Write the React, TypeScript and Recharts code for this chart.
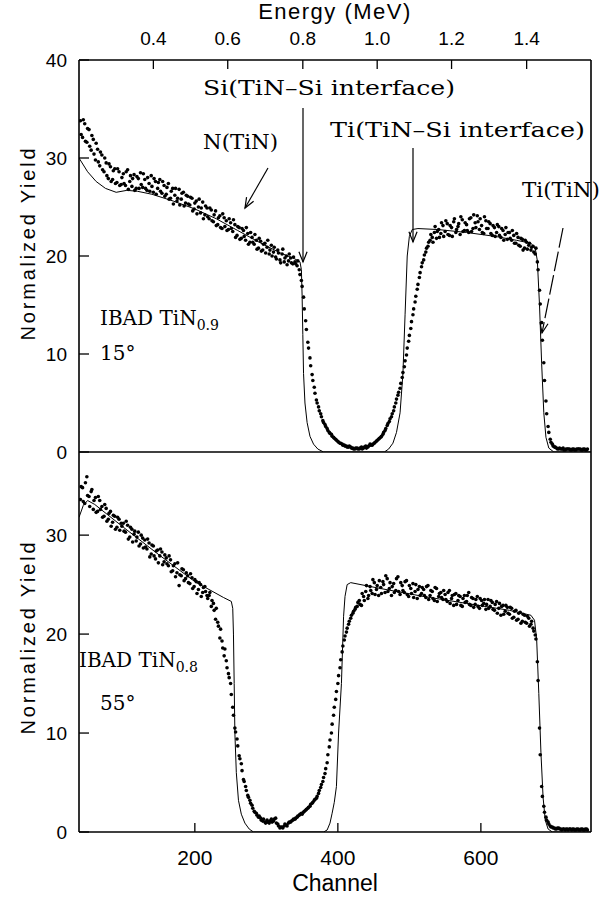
import React from 'react';
import { ScatterChart, Scatter, XAxis, YAxis } from 'recharts';

// ---------- axis ticks ----------
const channelTicks = [200, 400, 600];
// Energy (MeV) scale on top, placed at the channels where each energy falls
const energyTickChannels = [142, 246, 351, 455, 559, 664];
const energyTickLabels = ['0.4', '0.6', '0.8', '1.0', '1.2', '1.4'];
const topYTicks = [0, 10, 20, 30, 40];
const bottomYTicks = [0, 10, 20, 30];
const rightYTicks = [10, 20, 30];

// ---------- measured spectra (channel, yield) ----------
const channels = [
  40, 43, 46, 49, 52, 55, 58, 61, 64, 67,
  70, 73, 76, 79, 82, 85, 88, 91, 94, 97,
  100, 103, 106, 109, 112, 115, 118, 121, 124, 127,
  130, 133, 136, 139, 142, 145, 148, 151, 154, 157,
  160, 163, 166, 169, 172, 175, 178, 181, 184, 187,
  190, 193, 196, 199, 202, 205, 208, 211, 214, 217,
  220, 223, 226, 229, 232, 235, 238, 241, 244, 247,
  250, 253, 256, 259, 262, 265, 268, 271, 274, 277,
  280, 283, 286, 289, 292, 295, 298, 301, 304, 307,
  310, 313, 316, 319, 322, 325, 328, 331, 334, 337,
  340, 343, 346, 349, 352, 355, 358, 361, 364, 367,
  370, 373, 376, 379, 382, 385, 388, 391, 394, 397,
  400, 403, 406, 409, 412, 415, 418, 421, 424, 427,
  430, 433, 436, 439, 442, 445, 448, 451, 454, 457,
  460, 463, 466, 469, 472, 475, 478, 481, 484, 487,
  490, 493, 496, 499, 502, 505, 508, 511, 514, 517,
  520, 523, 526, 529, 532, 535, 538, 541, 544, 547,
  550, 553, 556, 559, 562, 565, 568, 571, 574, 577,
  580, 583, 586, 589, 592, 595, 598, 601, 604, 607,
  610, 613, 616, 619, 622, 625, 628, 631, 634, 637,
  640, 643, 646, 649, 652, 655, 658, 661, 664, 667,
  670, 673, 676, 679, 682, 685, 688, 691, 694, 697,
  700, 703, 706, 709, 712, 715, 718, 721, 724, 727,
  730, 733, 736, 739, 742, 745, 748,
];
const channelsB = [
  41, 44, 47, 50, 53, 56, 59, 62, 65, 68,
  71, 74, 77, 80, 83, 86, 89, 92, 95, 98,
  101, 104, 107, 110, 113, 116, 119, 122, 125, 128,
  131, 134, 137, 140, 143, 146, 149, 152, 155, 158,
  161, 164, 167, 170, 173, 176, 179, 182, 185, 188,
  191, 194, 197, 200, 203, 206, 209, 212, 215, 218,
  221, 224, 227, 230, 233, 236, 239, 242, 245, 248,
  251, 254, 257, 260, 263, 266, 269, 272, 275, 278,
  281, 284, 287, 290, 293, 296, 299, 302, 305, 308,
  311, 314, 317, 320, 323, 326, 329, 332, 335, 338,
  341, 344, 347, 350, 353, 356, 359, 362, 365, 368,
  371, 374, 377, 380, 383, 386, 389, 392, 395, 398,
  401, 404, 407, 410, 413, 416, 419, 422, 425, 428,
  431, 434, 437, 440, 443, 446, 449, 452, 455, 458,
  461, 464, 467, 470, 473, 476, 479, 482, 485, 488,
  491, 494, 497, 500, 503, 506, 509, 512, 515, 518,
  521, 524, 527, 530, 533, 536, 539, 542, 545, 548,
  551, 554, 557, 560, 563, 566, 569, 572, 575, 578,
  581, 584, 587, 590, 593, 596, 599, 602, 605, 608,
  611, 614, 617, 620, 623, 626, 629, 632, 635, 638,
  641, 644, 647, 650, 653, 656, 659, 662, 665, 668,
  671, 674, 677, 680, 683, 686, 689, 692, 695, 698,
  701, 704, 707, 710, 713, 716, 719, 722, 725, 728,
  731, 734, 737, 740, 743, 746, 749,
];

// IBAD TiN0.9, 15 degrees
const topYield = [
  33.8, 32.1, 33.5, 31.6, 32.9, 30.8, 31.9, 29.8, 30.9, 29.2,
  30.3, 28.6, 29.5, 27.9, 29.1, 27.8, 28.9, 27.5, 28.6, 27.3,
  28.4, 27.2, 28.8, 27.6, 27.1, 28.3, 26.9, 27.9, 28.5, 27.0,
  27.8, 26.7, 27.4, 28.2, 26.5, 27.6, 26.9, 27.8, 26.4, 27.2,
  26.3, 27.4, 25.9, 26.9, 26.2, 25.6, 26.8, 25.8, 26.5, 25.4,
  26.1, 25.2, 25.9, 24.8, 25.6, 25.0, 24.4, 25.5, 24.2, 24.9,
  23.8, 24.7, 23.5, 24.6, 23.2, 24.1, 22.8, 23.9, 23.6, 22.7,
  23.4, 22.5, 23.2, 22.1, 22.9, 21.8, 22.6, 21.6, 22.3, 21.4,
  21.9, 21.2, 21.6, 20.8, 21.5, 20.6, 21.3, 20.9, 20.2, 21.1,
  20.4, 19.9, 20.6, 19.6, 20.2, 19.4, 20.0, 19.5, 19.8, 19.2,
  19.4, 19.0, 18.6, 17.5, 15.8, 13.4, 11.2, 9.6, 7.9, 6.6,
  5.3, 4.6, 3.9, 3.2, 2.8, 2.4, 2.0, 1.8, 1.5, 1.3,
  1.1, 0.9, 0.8, 0.7, 0.6, 0.5, 0.5, 0.4, 0.3, 0.4,
  0.3, 0.5, 0.4, 0.6, 0.5, 0.8, 0.7, 0.9, 1.1, 1.3,
  1.5, 1.8, 2.2, 2.7, 3.1, 3.6, 4.2, 5.0, 5.8, 6.5,
  7.6, 8.7, 9.9, 11.3, 12.6, 14.0, 15.3, 16.6, 17.8, 18.9,
  19.6, 20.4, 21.0, 21.6, 21.9, 22.4, 21.8, 22.7, 22.3, 23.1,
  22.5, 23.3, 22.1, 22.9, 23.5, 22.4, 23.0, 22.2, 23.7, 22.6,
  23.2, 22.4, 23.9, 22.8, 23.4, 24.1, 22.7, 23.1, 22.3, 23.6,
  22.8, 23.3, 22.1, 22.9, 22.4, 23.0, 21.9, 22.6, 22.2, 21.7,
  22.4, 21.6, 22.1, 21.3, 21.9, 21.0, 21.7, 20.8, 21.4, 21.1,
  20.6, 21.0, 20.2, 19.4, 16.5, 13.2, 9.1, 5.2, 2.6, 1.3,
  0.8, 0.5, 0.4, 0.3, 0.3, 0.4, 0.2, 0.3, 0.3, 0.2,
  0.3, 0.2, 0.3, 0.3, 0.2, 0.3, 0.2,
];
const topYieldB = [
  32.4, 33.9, 31.7, 33.0, 31.2, 32.3, 30.4, 31.5, 29.6, 30.6,
  28.8, 30.0, 28.2, 29.4, 27.6, 28.7, 27.4, 28.9, 27.2, 28.0,
  27.4, 28.6, 26.8, 28.2, 27.9, 26.7, 28.1, 26.9, 27.3, 28.4,
  26.9, 28.0, 26.6, 27.1, 27.9, 26.3, 27.5, 26.6, 27.6, 26.1,
  27.0, 25.8, 26.6, 25.3, 26.9, 25.9, 25.2, 26.4, 25.1, 26.2,
  25.3, 26.0, 24.6, 25.4, 24.3, 25.8, 24.9, 23.8, 25.1, 24.0,
  24.9, 23.6, 24.2, 23.1, 23.9, 22.9, 24.3, 23.0, 22.6, 23.8,
  22.8, 23.7, 21.9, 23.0, 21.7, 22.8, 22.0, 22.9, 21.2, 22.4,
  21.4, 22.2, 20.7, 21.8, 20.5, 21.2, 20.3, 21.6, 20.6, 20.0,
  20.9, 19.7, 20.3, 19.3, 20.7, 19.8, 19.1, 20.2, 19.3, 19.9,
  19.2, 19.5, 18.1, 16.9, 14.6, 12.5, 10.6, 8.8, 7.3, 6.0,
  5.0, 4.2, 3.6, 3.0, 2.6, 2.2, 1.9, 1.6, 1.4, 1.2,
  1.0, 0.9, 0.7, 0.6, 0.5, 0.6, 0.4, 0.3, 0.4, 0.3,
  0.4, 0.3, 0.5, 0.4, 0.6, 0.7, 0.8, 1.0, 1.2, 1.4,
  1.6, 2.0, 2.4, 2.9, 3.4, 3.9, 4.6, 5.4, 6.1, 7.0,
  8.1, 9.3, 10.6, 11.9, 13.3, 14.6, 15.9, 17.1, 18.3, 19.3,
  20.1, 20.8, 21.4, 22.2, 21.4, 23.0, 22.5, 21.9, 23.4, 22.0,
  23.6, 22.2, 23.1, 22.0, 23.8, 22.7, 23.3, 24.0, 22.5, 23.4,
  22.6, 23.8, 22.5, 24.2, 22.9, 23.5, 23.8, 22.4, 24.0, 22.8,
  23.5, 22.3, 23.1, 22.0, 23.2, 22.1, 22.8, 21.6, 22.9, 22.4,
  21.8, 22.6, 21.3, 22.3, 21.1, 21.8, 20.6, 21.6, 20.7, 21.3,
  20.9, 20.4, 20.8, 18.6, 15.1, 11.4, 7.3, 3.9, 2.0, 1.0,
  0.6, 0.5, 0.3, 0.4, 0.3, 0.2, 0.3, 0.3, 0.2, 0.3,
  0.2, 0.3, 0.3, 0.2, 0.3, 0.2, 0.3,
];

// IBAD TiN0.8, 55 degrees
const bottomYield = [
  33.6, 34.8, 33.2, 35.9, 33.9, 34.4, 32.6, 33.8, 32.4, 33.5,
  32.9, 31.9, 32.7, 31.6, 32.4, 31.3, 31.9, 30.8, 31.6, 31.2,
  31.2, 30.3, 31.0, 29.8, 30.6, 30.1, 29.4, 30.3, 29.1, 29.7,
  29.5, 28.6, 29.2, 28.1, 28.9, 27.6, 28.5, 27.9, 28.3, 27.3,
  27.7, 26.9, 27.5, 26.4, 27.1, 26.2, 24.9, 25.9, 26.5, 25.6,
  25.9, 25.1, 25.7, 24.8, 25.3, 24.5, 25.0, 24.2, 24.8, 23.9,
  23.9, 22.8, 23.1, 21.5, 21.2, 19.6, 19.3, 17.8, 17.3, 16.0,
  15.0, 12.6, 10.5, 9.4, 7.7, 6.9, 5.3, 4.6, 3.7, 3.2,
  2.7, 2.1, 1.9, 1.5, 1.4, 1.1, 1.0, 1.2, 0.9, 1.3,
  1.1, 1.4, 0.8, 0.4, 0.5, 0.6, 0.7, 0.9, 1.0, 1.2,
  1.3, 1.5, 1.7, 1.9, 2.0, 2.2, 2.4, 2.6, 2.9, 3.2,
  3.4, 3.9, 4.5, 5.1, 5.9, 7.0, 8.6, 10.0, 11.8, 13.4,
  15.0, 16.6, 18.2, 19.4, 20.2, 21.0, 21.6, 22.1, 22.5, 22.8,
  23.4, 22.9, 23.8, 24.3, 23.6, 24.8, 24.1, 25.2, 24.5, 23.9,
  24.7, 25.3, 24.2, 25.6, 24.6, 23.9, 25.1, 24.4, 25.8, 24.0,
  24.9, 24.2, 25.4, 23.8, 24.6, 25.1, 24.3, 23.6, 24.8, 24.1,
  24.5, 23.7, 24.9, 23.9, 24.3, 23.4, 24.6, 23.8, 24.2, 23.5,
  24.0, 23.3, 24.4, 23.6, 22.9, 24.1, 23.4, 23.8, 22.8, 23.9,
  23.3, 24.2, 22.9, 23.6, 23.0, 23.8, 22.6, 23.4, 23.1, 22.5,
  23.5, 22.8, 23.2, 22.4, 23.3, 22.6, 21.9, 22.9, 22.3, 22.7,
  22.0, 22.6, 21.7, 22.4, 21.5, 22.2, 21.3, 21.9, 21.1, 21.6,
  21.0, 20.6, 19.9, 17.2, 10.5, 4.6, 2.6, 1.5, 1.0, 0.6,
  0.5, 0.4, 0.3, 0.4, 0.3, 0.3, 0.2, 0.3, 0.3, 0.2,
  0.3, 0.2, 0.3, 0.2, 0.3, 0.2, 0.3,
];
const bottomYieldB = [
  34.9, 33.4, 35.3, 34.0, 32.9, 34.6, 33.5, 32.3, 33.9, 32.6,
  31.8, 33.1, 31.4, 32.2, 30.9, 32.0, 30.6, 31.8, 30.5, 30.9,
  30.4, 31.4, 29.6, 30.8, 29.3, 30.4, 29.8, 28.9, 30.0, 28.7,
  28.8, 29.6, 27.8, 29.0, 27.9, 28.4, 27.2, 28.6, 27.0, 28.0,
  27.1, 27.9, 26.3, 26.9, 25.8, 27.2, 26.0, 26.6, 25.4, 26.2,
  25.2, 26.1, 24.6, 25.5, 24.1, 25.2, 23.8, 24.7, 24.3, 23.6,
  24.2, 23.4, 22.4, 22.6, 20.8, 20.5, 18.6, 18.5, 16.6, 15.6,
  13.9, 11.8, 10.1, 8.7, 7.4, 6.2, 5.1, 4.2, 3.5, 2.9,
  2.4, 2.0, 1.7, 1.6, 1.2, 1.3, 0.9, 1.0, 1.1, 1.0,
  1.3, 0.9, 0.6, 0.5, 0.4, 0.8, 0.6, 1.0, 1.1, 1.3,
  1.4, 1.6, 1.8, 1.8, 2.1, 2.3, 2.5, 2.8, 3.0, 3.3,
  3.6, 4.2, 4.8, 5.5, 6.4, 7.8, 9.3, 10.9, 12.6, 14.2,
  15.8, 17.4, 18.8, 19.8, 20.6, 21.3, 21.9, 22.3, 22.7, 23.2,
  23.0, 24.1, 23.4, 24.9, 23.9, 24.4, 25.5, 24.0, 24.9, 25.4,
  24.1, 25.0, 25.9, 24.3, 25.2, 24.8, 24.2, 25.6, 24.3, 25.2,
  24.4, 25.3, 24.0, 24.9, 24.1, 23.7, 25.0, 24.5, 23.9, 24.7,
  23.9, 24.8, 23.5, 24.4, 23.6, 24.7, 23.3, 24.1, 23.7, 24.4,
  23.5, 24.2, 23.1, 23.9, 24.0, 23.0, 23.9, 22.9, 23.6, 23.2,
  23.9, 23.0, 23.7, 22.7, 23.5, 22.8, 23.6, 22.9, 23.5, 23.0,
  22.6, 23.4, 22.5, 23.0, 22.1, 23.1, 22.8, 22.0, 22.9, 22.1,
  22.7, 21.6, 22.3, 21.4, 22.1, 21.1, 22.0, 21.2, 21.8, 20.8,
  21.3, 20.3, 19.5, 15.3, 7.8, 3.6, 2.0, 1.2, 0.8, 0.5,
  0.4, 0.3, 0.4, 0.3, 0.2, 0.3, 0.3, 0.2, 0.3, 0.3,
  0.2, 0.3, 0.2, 0.3, 0.2, 0.3, 0.2,
];

// ---------- simulated spectra ----------
const topSimChannel = [
  38, 50, 62, 75, 90, 105, 120, 140, 170, 200, 230, 260, 290, 320, 340, 347, 349, 350, 351, 352,
  354, 357, 361, 366, 372, 380, 465, 471, 477, 482, 487, 491, 494, 497, 500, 504, 512, 540, 580, 620,
  650, 670, 676, 679, 682, 685, 688, 691, 695, 702, 754,
];
const topSimYield = [
  30, 28.6, 27.6, 26.9, 26.5, 26.7, 26.6, 26.3, 25.6, 24.8, 23.8, 22.6, 21.4, 20.3, 19.7, 19.4, 18.6, 16, 12, 8,
  5, 3, 1.6, 0.8, 0.3, 0, 0, 0.3, 0.9, 2, 4, 8, 14, 20, 22, 22.7, 22.8, 22.7, 22.4, 22.0,
  21.6, 21.3, 20.8, 19.5, 15, 9, 4, 1.5, 0.4, 0, 0,
];
const bottomSimChannel = [
  38, 44, 50, 60, 100, 150, 200, 240, 251, 253, 254, 255, 256, 258, 261, 265, 270, 276, 282, 380,
  385, 389, 392, 395, 398, 401, 405, 408, 410, 413, 418, 460, 520, 580, 640, 670, 675, 678, 681, 684,
  687, 690, 694, 700, 754,
];
const bottomSimYield = [
  31.8, 33.0, 33.5, 33.1, 30.8, 28.0, 25.3, 23.7, 23.3, 22.6, 20, 15, 10, 6, 3.2, 1.8, 0.9, 0.3, 0, 0,
  0.2, 0.9, 1.9, 3, 4.6, 10, 15, 21.8, 23.8, 25.0, 25.2, 24.6, 23.8, 23.1, 22.4, 21.9, 21.4, 19.5, 14, 8,
  3.5, 1.2, 0.3, 0, 0,
];

const topPoints = [
  ...channels.map((c, i) => ({ x: c, y: topYield[i] })),
  ...channelsB.map((c, i) => ({ x: c, y: topYieldB[i] })),
];
const bottomPoints = [
  ...channels.map((c, i) => ({ x: c, y: bottomYield[i] })),
  ...channelsB.map((c, i) => ({ x: c, y: bottomYieldB[i] })),
];
const topSim = topSimChannel.map((c, i) => ({ x: c, y: topSimYield[i] }));
const bottomSim = bottomSimChannel.map((c, i) => ({ x: c, y: bottomSimYield[i] }));

const SANS = 'Liberation Sans, Arial, sans-serif';
const SERIF = 'DejaVu Serif, serif';

const Dot = (p: any) => <circle cx={p.cx} cy={p.cy} r={1.8} fill="#000" />;
const Empty = () => <g />;

const axisLine = { stroke: '#000', strokeWidth: 1.6 };
const tickLine = { stroke: '#000', strokeWidth: 1.3 };
const tickText = { fill: '#000', fontSize: 19, fontFamily: SANS };

const Arrow = ({ x1, y1, x2, y2, dash }: any) => {
  const a = Math.atan2(y2 - y1, x2 - x1);
  const L = 11;
  const s = 0.38;
  const p1 = [x2 - L * Math.cos(a - s), y2 - L * Math.sin(a - s)];
  const p2 = [x2 - L * Math.cos(a + s), y2 - L * Math.sin(a + s)];
  return (
    <g stroke="#000" strokeWidth={1.2} fill="none">
      <line x1={x1} y1={y1} x2={x2} y2={y2} strokeDasharray={dash} />
      <polyline points={`${p1[0]},${p1[1]} ${x2},${y2} ${p2[0]},${p2[1]}`} />
    </g>
  );
};

export default function App() {
  return (
    <div style={{ position: 'absolute', left: 0, top: 0, width: 607, height: 898, background: '#fff' }}>
      <div style={{ position: 'absolute', left: 0, top: 0 }}>
        <ScatterChart width={607} height={470} margin={{ top: 0, right: 0, bottom: 0, left: 0 }}>
          <XAxis
            xAxisId="e"
            dataKey="x"
            orientation="top"
            type="number"
            domain={[38, 754]}
            allowDataOverflow
            ticks={energyTickChannels}
            tickFormatter={(v: number) => energyTickLabels[energyTickChannels.indexOf(v)]}
            height={60}
            tickSize={-9}
            tickMargin={24}
            axisLine={axisLine}
            tickLine={tickLine}
            tick={tickText}
          />
          <XAxis
            xAxisId="c"
            dataKey="x"
            type="number"
            domain={[38, 754]}
            allowDataOverflow
            height={18}
            tick={false}
            tickLine={false}
            axisLine={axisLine}
          />
          <YAxis
            yAxisId="l"
            dataKey="y"
            type="number"
            domain={[0, 40]}
            allowDataOverflow
            ticks={topYTicks}
            width={79}
            tickSize={-10}
            tickMargin={22}
            axisLine={axisLine}
            tickLine={tickLine}
            tick={tickText}
          />
          <YAxis
            yAxisId="r"
            dataKey="y"
            orientation="right"
            type="number"
            domain={[0, 40]}
            allowDataOverflow
            ticks={rightYTicks}
            width={16}
            tickSize={-10}
            tick={false}
            axisLine={axisLine}
            tickLine={tickLine}
          />
          <Scatter xAxisId="e" yAxisId="r" data={topSim} shape={Empty} isAnimationActive={false} />
          <Scatter xAxisId="c" yAxisId="l" data={topSim} line={{ stroke: '#000', strokeWidth: 1 }} shape={Empty} isAnimationActive={false} />
          <Scatter xAxisId="c" yAxisId="l" data={topPoints} shape={Dot} isAnimationActive={false} />
        </ScatterChart>
      </div>
      <div style={{ position: 'absolute', left: 0, top: 440 }}>
        <ScatterChart width={607} height={458} margin={{ top: 12, right: 0, bottom: 0, left: 0 }}>
          <XAxis
            xAxisId="c"
            dataKey="x"
            type="number"
            domain={[38, 754]}
            allowDataOverflow
            ticks={channelTicks}
            height={66}
            tickSize={-9}
            tickMargin={27}
            axisLine={axisLine}
            tickLine={tickLine}
            tick={{ ...tickText, fontSize: 21 }}
          />
          <YAxis
            yAxisId="l"
            dataKey="y"
            type="number"
            domain={[0, 38.4]}
            allowDataOverflow
            ticks={bottomYTicks}
            width={79}
            tickSize={-10}
            tickMargin={22}
            axisLine={axisLine}
            tickLine={tickLine}
            tick={tickText}
          />
          <YAxis
            yAxisId="r"
            dataKey="y"
            orientation="right"
            type="number"
            domain={[0, 38.4]}
            allowDataOverflow
            ticks={rightYTicks}
            width={16}
            tickSize={-10}
            tick={false}
            axisLine={axisLine}
            tickLine={tickLine}
          />
          <Scatter xAxisId="c" yAxisId="r" data={bottomSim} shape={Empty} isAnimationActive={false} />
          <Scatter xAxisId="c" yAxisId="l" data={bottomSim} line={{ stroke: '#000', strokeWidth: 1 }} shape={Empty} isAnimationActive={false} />
          <Scatter xAxisId="c" yAxisId="l" data={bottomPoints} shape={Dot} isAnimationActive={false} />
        </ScatterChart>
      </div>
      <svg width={607} height={898} style={{ position: 'absolute', left: 0, top: 0, pointerEvents: 'none' }}>
        <text x={335} y={19} textAnchor="middle" fontFamily={SANS} fontSize={22} letterSpacing={1.5}>Energy (MeV)</text>
        <text x={335} y={891} textAnchor="middle" fontFamily={SANS} fontSize={23}>Channel</text>
        <text transform="translate(35,243) rotate(-90)" textAnchor="middle" fontFamily={SANS} fontSize={20} letterSpacing={2.8}>Normalized Yield</text>
        <text transform="translate(35,637) rotate(-90)" textAnchor="middle" fontFamily={SANS} fontSize={20} letterSpacing={2.8}>Normalized Yield</text>

        <g fontFamily={SERIF} fontSize={20} fill="#000">
          <text x={203} y={95} textLength={252} lengthAdjust="spacingAndGlyphs">Si(TiN–Si interface)</text>
          <text x={203} y={149} textLength={75} lengthAdjust="spacingAndGlyphs">N(TiN)</text>
          <text x={330} y={137} textLength={255} lengthAdjust="spacingAndGlyphs">Ti(TiN–Si interface)</text>
          <text x={522} y={197} textLength={78} lengthAdjust="spacingAndGlyphs">Ti(TiN)</text>
          <text x={100} y={325}>IBAD TiN<tspan fontSize={14} dy={5}>0.9</tspan></text>
          <text x={100} y={360}>15°</text>
          <text x={79} y={667}>IBAD TiN<tspan fontSize={14} dy={5}>0.8</tspan></text>
          <text x={100} y={710}>55°</text>
        </g>

        <Arrow x1={303} y1={108} x2={303} y2={262} />
        <Arrow x1={413} y1={148} x2={413} y2={242} />
        <Arrow x1={268} y1={168} x2={245} y2={208} />
        <Arrow x1={563} y1={228} x2={542} y2={333} dash="20 4" />
      </svg>
    </div>
  );
}
